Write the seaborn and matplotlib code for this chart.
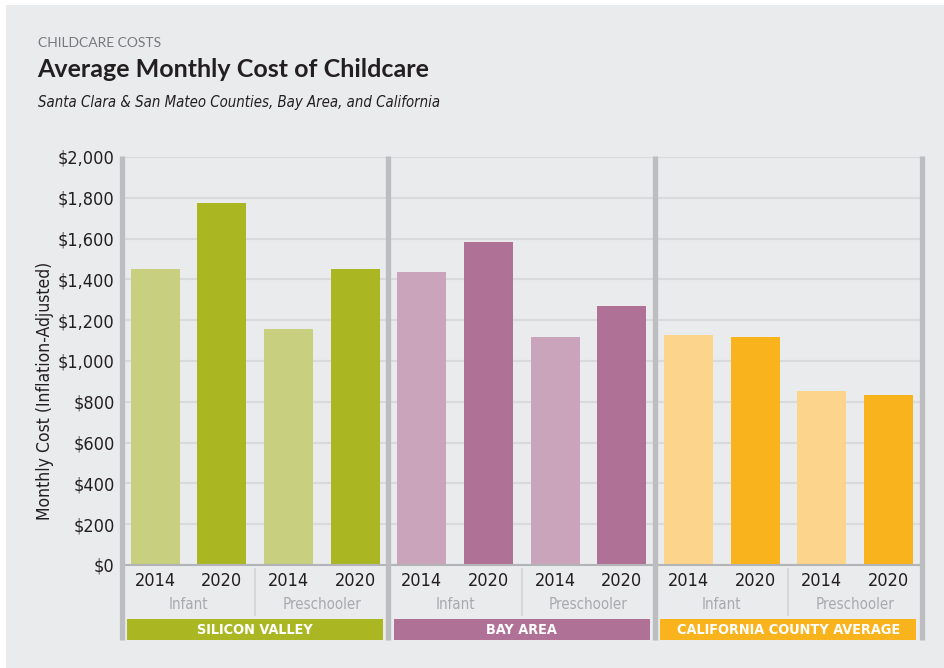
import pandas as pd
import matplotlib.pyplot as plt
import matplotlib.transforms as mtransforms
from matplotlib import font_manager
from matplotlib.font_manager import FontProperties
from matplotlib.patches import Rectangle
import seaborn as sns

# data
regions = ["SILICON VALLEY", "BAY AREA", "CALIFORNIA COUNTY AVERAGE"]
ages = ["Infant", "Preschooler"]
years = ["2014", "2020"]
silicon_valley = [1450, 1775, 1155, 1450]
bay_area = [1435, 1585, 1120, 1270]
california = [1125, 1120, 855, 835]
yticks = [0, 200, 400, 600, 800, 1000, 1200, 1400, 1600, 1800, 2000]

light = ["#c8cf7e", "#c9a4ba", "#fdd48b"]
dark = ["#aab723", "#af7296", "#f9b31c"]

rows = []
for region, vals in zip(regions, [silicon_valley, bay_area, california]):
    i = 0
    for age in ages:
        for yr in years:
            rows.append({"region": region, "age": age, "year": yr, "cost": vals[i],
                         "bar": f"{region} {age} {yr}"})
            i += 1
df = pd.DataFrame(rows)
palette = []
for k in range(len(regions)):
    palette += [light[k], dark[k], light[k], dark[k]]

sns.set_theme(style="white")

# look for a condensed sans face; otherwise fall back to Liberation Sans, a bit smaller
cond = [f for f in font_manager.fontManager.ttflist
        if any(w in (f.name + f.fname) for w in ("Narrow", "Condensed", "Cond"))
        and "Mono" not in f.fname and "Serif" not in (f.name + f.fname)]

def pick(italic=False, bold=False):
    for f in cond:
        isbold = f.weight in ("bold", 700, "heavy", 800, 900) or "Bold" in f.fname
        isital = f.style in ("italic", "oblique")
        if isital == italic and isbold == bold:
            return f.fname
    return None

narrow_ok = pick() is not None
shrink = 1.0 if narrow_ok else 0.9

def fp(size, italic=False, bold=False):
    fn = pick(italic, bold) if narrow_ok else None
    if fn:
        return FontProperties(fname=fn, size=size * shrink)
    return FontProperties(family=["Liberation Sans", "DejaVu Sans"], size=size * shrink,
                          style="italic" if italic else "normal",
                          weight="bold" if bold else "normal")

bg = "#eaebed"
ink = "#231f20"

W, H = 945, 668
fig = plt.figure(figsize=(W / 100, H / 100), dpi=100, facecolor="white")
fig.patches.append(Rectangle((6 / W, 0), 1, 1 - 5 / H, transform=fig.transFigure,
                             facecolor=bg, edgecolor="none", zorder=-5))

def fx(x):
    return x / W

def fy(y):
    return 1 - y / H

ax = fig.add_axes([121.7 / W, (H - 565) / H, 800 / W, 408 / H])
ax.set_facecolor(bg)

sns.barplot(data=df, x="bar", y="cost", hue="bar", palette=palette, legend=False,
            width=0.735, saturation=1, ax=ax, zorder=3, linewidth=0)

ax.set_ylim(0, 2000)
ax.set_xlim(-0.5, 11.5)
ax.set_yticks(yticks)
ax.set_yticklabels([f"${v:,}" for v in yticks], fontproperties=fp(13), color=ink)
ax.set_xticks(range(len(df)))
ax.set_xticklabels(df["year"], fontproperties=fp(13), color=ink)
ax.tick_params(axis="both", length=0)
ax.tick_params(axis="y", pad=5)
ax.tick_params(axis="x", pad=5)
ax.set_xlabel("")
ax.set_ylabel("")
for g in yticks[1:]:
    ax.axhline(g, color="#d9dadc", lw=1.6, zorder=1)
for s in ["top", "right", "left"]:
    ax.spines[s].set_visible(False)
ax.spines["bottom"].set_color("#b3b4b7")
ax.spines["bottom"].set_linewidth(1.5)
ax.spines["bottom"].set_zorder(4)

trans = mtransforms.blended_transform_factory(ax.transData, ax.transAxes)
low = -0.184
# thick group separators
for x in [-0.5, 3.5, 7.5, 11.5]:
    ax.plot([x, x], [low, 1.003], transform=trans, color="#bcbdc1", lw=3.8,
            solid_capstyle="butt", clip_on=False, zorder=5)
# light separators between age groups
for x in [1.5, 5.5, 9.5]:
    ax.plot([x, x], [-0.007, -0.124], transform=trans, color="#d6d7d9", lw=1.5,
            solid_capstyle="butt", clip_on=False, zorder=2)
for k in range(len(regions)):
    # age labels
    for j, age in enumerate(ages):
        ax.text(4 * k + 2 * j + 0.5, -0.0956, age, transform=trans, ha="center",
                va="center", fontproperties=fp(10.8), color="#a8a9ad")
    # region banners
    ax.add_patch(Rectangle((4 * k - 0.42, low), 3.84, 0.0515, transform=trans,
                           facecolor=dark[k], edgecolor="none", clip_on=False, zorder=4))
    ax.text(4 * k + 1.5, -0.1585, regions[k], transform=trans, ha="center", va="center",
            fontproperties=fp(10.4, bold=True), color="white", zorder=6)

fig.text(fx(45), fy(391), "Monthly Cost (Inflation-Adjusted)", rotation=90,
         ha="center", va="center", fontproperties=fp(12.6), color=ink)

fig.text(fx(38), fy(47), "CHILDCARE COSTS", fontsize=10, color="#77787b",
         family=["Lato", "DejaVu Sans"], va="baseline")
fig.text(fx(37), fy(77), "Average Monthly Cost of Childcare", fontsize=18,
         color=ink, family=["Lato", "DejaVu Sans"], fontweight="bold", va="baseline")
fig.text(fx(38), fy(107), "Santa Clara & San Mateo Counties, Bay Area, and California",
         fontproperties=fp(10.7, italic=True), color=ink, va="baseline")

fig.savefig("out.png", dpi=100, facecolor=fig.get_facecolor())
